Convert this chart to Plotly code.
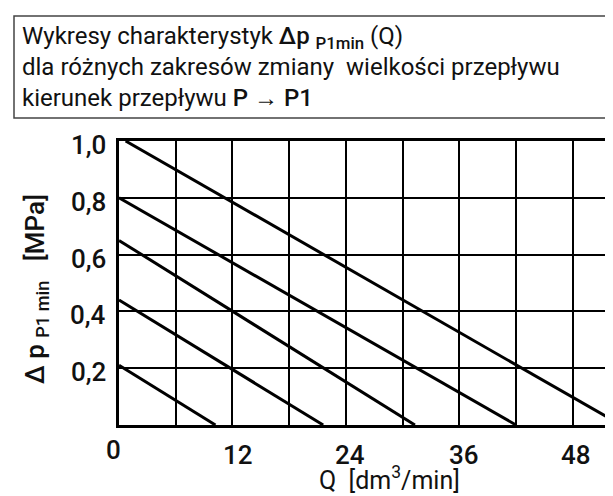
import plotly.graph_objects as go

# ---- data ----
line_names = ["L1", "L2", "L3", "L4", "L5"]
line_q_start = [0.7, 0.0, 0.0, 0.0, 0.0]
line_q_end = [53.1, 42.0, 31.3, 21.6, 10.2]
line_dp_start = [1.0, 0.80, 0.65, 0.44, 0.21]
line_dp_end = [0.0, 0.0, 0.0, 0.0, 0.0]

x_grid_vals = [0, 6, 12, 18, 24, 30, 36, 42, 48]
x_tick_vals = [0, 12, 24, 36, 48]
x_tick_text = ["0", "12", "24", "36", "48"]
y_tick_vals = [0.2, 0.4, 0.6, 0.8, 1.0]
y_tick_text = ["0,2", "0,4", "0,6", "0,8", "1,0"]

header_lines = [
    "Wykresy charakterystyk <span style='font-weight:500'>Δp</span> "
    "<sub><span style='font-weight:500'>P1min</span></sub> (Q)",
    "dla różnych zakresów zmiany  wielkości przepływu",
    "kierunek przepływu <span style='font-weight:500'>P → P1</span>",
]
x_title = "Q  [dm<sup>3</sup>/min]"
y_title = "Δ p <sub>P1 min</sub>   [MPa]"

# ---- layout constants (pixels) ----
W, H = 613, 496
L, R, T, B = 111, 0, 133, 79
PW, PH = W - L - R, H - T - B
FONT = "Roboto, Liberation Sans, sans-serif"
INK = "#111111"


def px_x(p):
    return (p - L) / PW


def px_y(p):
    return (H - B - p) / PH


fig = go.Figure()
for i, name in enumerate(line_names):
    fig.add_trace(go.Scatter(
        x=[line_q_start[i], line_q_end[i]],
        y=[line_dp_start[i], line_dp_end[i]],
        mode="lines", name=name, showlegend=False,
        line=dict(color="#000000", width=3),
        hoverinfo="skip",
    ))

annotations = []
# header text
header_y_px = [30, 59, 90]
for txt, yp in zip(header_lines, header_y_px):
    annotations.append(dict(
        text=txt, xref="paper", yref="paper", x=px_x(12), y=px_y(yp),
        xanchor="left", yanchor="middle", showarrow=False,
        font=dict(family=FONT, size=24, color=INK),
    ))

# x tick labels
x_shift_px = [-6, 6, 4, 5, 3]
x_label_y_px = [442, 447, 447, 447, 447]
for v, t, s, yp in zip(x_tick_vals, x_tick_text, x_shift_px, x_label_y_px):
    annotations.append(dict(
        text=t, xref="x", yref="paper", x=v, y=px_y(yp), xshift=s,
        xanchor="center", yanchor="middle", showarrow=False,
        font=dict(family=FONT, size=26, color=INK, weight=500),
    ))

# y tick labels
for v, t in zip(y_tick_vals, y_tick_text):
    annotations.append(dict(
        text=t, xref="paper", yref="y", x=0, y=v, xshift=-11, yshift=-4,
        xanchor="right", yanchor="middle", showarrow=False,
        font=dict(family=FONT, size=26, color=INK, weight=500),
    ))

# axis titles
annotations.append(dict(
    text=x_title, xref="paper", yref="paper", x=px_x(381), y=px_y(470),
    xanchor="center", yanchor="middle", showarrow=False,
    font=dict(family=FONT, size=25, color=INK),
))
annotations.append(dict(
    text=y_title, xref="paper", yref="paper", x=px_x(28), y=px_y(281),
    xanchor="center", yanchor="middle", showarrow=False, textangle=-90,
    font=dict(family=FONT, size=26, color=INK, weight=500),
))

fig.update_layout(
    width=W, height=H,
    margin=dict(l=L, r=R, t=T, b=B, pad=0),
    paper_bgcolor="white", plot_bgcolor="white",
    showlegend=False,
    annotations=annotations,
    shapes=[dict(
        type="rect", xref="paper", yref="paper",
        x0=px_x(6), x1=px_x(612), y0=px_y(110), y1=px_y(8),
        line=dict(color="#444444", width=1.5), fillcolor="rgba(0,0,0,0)",
        layer="above",
    )],
    xaxis=dict(
        range=[0, 53.1], tickvals=x_grid_vals, showticklabels=False,
        showgrid=True, gridcolor="#000000", gridwidth=2,
        showline=True, linecolor="#000000", linewidth=2.5, mirror=True,
        zeroline=False, ticks="", fixedrange=True,
    ),
    yaxis=dict(
        range=[0, 1.0], tickvals=y_tick_vals, showticklabels=False,
        showgrid=True, gridcolor="#000000", gridwidth=2,
        showline=True, linecolor="#000000", linewidth=2.5, mirror=False,
        zeroline=False, ticks="", fixedrange=True,
    ),
)

fig.write_html("out.html")
